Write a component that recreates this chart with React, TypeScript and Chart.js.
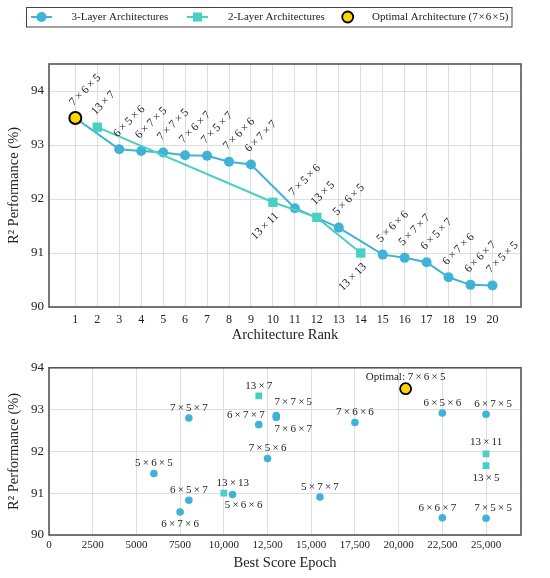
import React, { useEffect, useRef } from 'react'
import { Chart, registerables } from 'chart.js'

Chart.register(...registerables)

// ranking of the 20 best architectures
const ranks = [1, 2, 3, 4, 5, 6, 7, 8, 9, 10, 11, 12, 13, 14, 15, 16, 17, 18, 19, 20]
const archNames = [
	'7×6×5', '13×7', '6×5×6', '6×7×5', '7×7×5', '7×6×7', '7×5×7', '7×6×6', '6×7×7', '13×11',
	'7×5×6', '13×5', '5×6×5', '13×13', '5×6×6', '5×7×7', '6×5×7', '6×7×6', '6×6×7', '7×5×5',
]
const r2Scores = [
	93.5, 93.33, 92.92, 92.89, 92.86, 92.81, 92.8, 92.69, 92.64, 91.94,
	91.83, 91.66, 91.47, 91.0, 90.97, 90.91, 90.83, 90.55, 90.41, 90.4,
]
const bestEpochs = [
	20400, 12000, 22500, 25000, 13000, 13000, 8000, 17500, 12000, 25000,
	12500, 25000, 6000, 10000, 10500, 15500, 8000, 7500, 22500, 25000,
]
const layerCounts = [3, 2, 3, 3, 3, 3, 3, 3, 3, 2, 3, 2, 3, 2, 3, 3, 3, 3, 3, 3]
const optimalName = '7×6×5'

const r2Ticks = [90, 91, 92, 93, 94]
const epochTicks = [0, 2500, 5000, 7500, 10000, 12500, 15000, 17500, 20000, 22500, 25000]

const BLUE = '#3fb2d5'
const TEAL = '#48d0c3'
const GOLD = '#ffd500'
const INK = '#222'
const GRID = '#dedede'
const FONT = "'Liberation Serif', 'Times New Roman', serif"

// labels of the top chart drawn under the point
const labelsBelow = ['13×11', '13×13']
// label offsets in the scatter chart (default: centred above)
const scatterOffsets: Record<string, [number, number]> = {
	'6×7×7': [-13, -10],
	'7×7×5': [17, -13],
	'7×6×7': [17, 12],
	'13×13': [9, -10],
	'5×6×6': [11, 11],
	'6×7×6': [0, 12],
	'7×6×5': [0, -12],
	'6×7×5': [7, -10],
	'13×11': [0, -12],
	'13×5': [0, 12],
	'6×6×7': [-5, -10],
	'7×5×5': [7, -10],
}

const spaced = (s: string) => s.replace(/×/g, '\u2009×\u2009')
const tight = (s: string) => s.replace(/×/g, '\u200a×\u200a')

const idx3 = ranks.map((_, i) => i).filter((i) => layerCounts[i] === 3)
const idx2 = ranks.map((_, i) => i).filter((i) => layerCounts[i] === 2)
const optIdx = archNames.indexOf(optimalName)

const frame = {
	id: 'frame',
	afterDatasetsDraw(chart: any) {
		const { ctx, chartArea: a } = chart
		ctx.save()
		ctx.strokeStyle = '#555'
		ctx.lineWidth = 1.6
		ctx.strokeRect(a.left, a.top, a.right - a.left, a.bottom - a.top)
		ctx.restore()
	},
}

const rankLabels = {
	id: 'rankLabels',
	afterDatasetsDraw(chart: any) {
		const { ctx } = chart
		const { x, y } = chart.scales
		ctx.save()
		ctx.font = `11.5px ${FONT}`
		ctx.fillStyle = INK
		ctx.textBaseline = 'middle'
		ranks.forEach((r, i) => {
			const px = x.getPixelForValue(r)
			const py = y.getPixelForValue(r2Scores[i])
			const below = labelsBelow.includes(archNames[i])
			ctx.save()
			ctx.translate(below ? px + 4 : px - 4, below ? py + 12 : py - 14)
			ctx.rotate(-Math.PI / 4)
			ctx.textAlign = below ? 'right' : 'left'
			ctx.fillText(spaced(archNames[i]), 0, 0)
			ctx.restore()
		})
		ctx.restore()
	},
}

const boxLegend = {
	id: 'boxLegend',
	afterDraw(chart: any) {
		const { ctx } = chart
		const cy = 17
		ctx.save()
		ctx.strokeStyle = '#444'
		ctx.lineWidth = 1
		ctx.strokeRect(26.5, 7.5, 485.5, 19.5)

		ctx.strokeStyle = BLUE
		ctx.lineWidth = 2
		ctx.beginPath()
		ctx.moveTo(31, cy)
		ctx.lineTo(52, cy)
		ctx.stroke()
		ctx.fillStyle = BLUE
		ctx.beginPath()
		ctx.arc(41.5, cy, 5, 0, Math.PI * 2)
		ctx.fill()

		ctx.strokeStyle = TEAL
		ctx.beginPath()
		ctx.moveTo(187, cy)
		ctx.lineTo(208, cy)
		ctx.stroke()
		ctx.fillStyle = TEAL
		ctx.fillRect(197.5 - 4.5, cy - 4.5, 9, 9)

		ctx.fillStyle = GOLD
		ctx.strokeStyle = '#000'
		ctx.lineWidth = 1.8
		ctx.beginPath()
		ctx.arc(347.7, cy, 5.5, 0, Math.PI * 2)
		ctx.fill()
		ctx.stroke()

		ctx.fillStyle = INK
		ctx.font = `11px ${FONT}`
		ctx.textBaseline = 'middle'
		ctx.textAlign = 'left'
		ctx.fillText('3-Layer Architectures', 71.5, cy)
		ctx.fillText('2-Layer Architectures', 228, cy)
		ctx.fillText(`Optimal Architecture (${tight(optimalName)})`, 372, cy)
		ctx.restore()
	},
}

const epochLabels = {
	id: 'epochLabels',
	afterDatasetsDraw(chart: any) {
		const { ctx } = chart
		const { x, y } = chart.scales
		ctx.save()
		ctx.font = `11px ${FONT}`
		ctx.fillStyle = INK
		ctx.textBaseline = 'middle'
		ctx.textAlign = 'center'
		archNames.forEach((name, i) => {
			const px = x.getPixelForValue(bestEpochs[i])
			const py = y.getPixelForValue(r2Scores[i])
			const [dx, dy] = scatterOffsets[name] || [0, -10]
			const text = name === optimalName ? `Optimal: ${spaced(name)}` : spaced(name)
			ctx.fillText(text, px + dx, py + dy)
		})
		ctx.restore()
	},
}

const App: React.FC = () => {
	const topRef = useRef<HTMLCanvasElement>(null)
	const bottomRef = useRef<HTMLCanvasElement>(null)

	useEffect(() => {
		if (!topRef.current || !bottomRef.current) return
		Chart.defaults.font.family = FONT
		Chart.defaults.color = INK

		const topChart = new Chart(topRef.current, {
			type: 'scatter',
			data: {
				datasets: [
					{
						label: 'Optimal Architecture',
						data: [{ x: ranks[optIdx], y: r2Scores[optIdx] }],
						backgroundColor: GOLD,
						borderColor: '#000',
						borderWidth: 2,
						pointRadius: 6,
					},
					{
						label: '2-Layer Architectures',
						data: idx2.map((i) => ({ x: ranks[i], y: r2Scores[i] })),
						showLine: true,
						borderColor: TEAL,
						backgroundColor: TEAL,
						borderWidth: 2,
						pointStyle: 'rect',
						pointRadius: 6.6,
						pointBorderWidth: 0,
					},
					{
						label: '3-Layer Architectures',
						data: idx3.map((i) => ({ x: ranks[i], y: r2Scores[i] })),
						showLine: true,
						borderColor: BLUE,
						backgroundColor: BLUE,
						borderWidth: 2,
						pointRadius: 5,
						pointBorderWidth: 0,
					},
				],
			},
			options: {
				animation: false,
				responsive: false,
				layout: { padding: { left: 0, right: 29, top: 64, bottom: 0 } },
				plugins: { legend: { display: false }, tooltip: { enabled: false } },
				scales: {
					x: {
						type: 'linear',
						min: -0.2,
						max: 21.3,
						afterBuildTicks: (s: any) => {
							s.ticks = ranks.map((v) => ({ value: v }))
						},
						afterFit: (s: any) => {
							s.height = 48
						},
						grid: { color: GRID, drawTicks: false },
						border: { display: false },
						ticks: { font: { size: 12 }, color: INK, padding: 6, maxRotation: 0, autoSkip: false },
						title: {
							display: true,
							text: 'Architecture Rank',
							font: { size: 14.5 },
							color: INK,
							padding: { top: 0, bottom: 11 },
						},
					},
					y: {
						min: 90,
						max: 94.5,
						afterBuildTicks: (s: any) => {
							s.ticks = r2Ticks.map((v) => ({ value: v }))
						},
						afterFit: (s: any) => {
							s.width = 49
						},
						grid: { color: GRID, drawTicks: false },
						border: { display: false },
						ticks: { font: { size: 13 }, color: INK, padding: 5 },
						title: {
							display: true,
							text: 'R² Performance (%)',
							font: { size: 14.5 },
							color: INK,
							padding: { top: 5, bottom: 0 },
						},
					},
				},
			},
			plugins: [frame, rankLabels, boxLegend],
		})

		const bottomChart = new Chart(bottomRef.current, {
			type: 'scatter',
			data: {
				datasets: [
					{
						label: 'Optimal Architecture',
						data: [{ x: bestEpochs[optIdx], y: r2Scores[optIdx] }],
						backgroundColor: GOLD,
						borderColor: '#000',
						borderWidth: 1.8,
						pointRadius: 5.5,
					},
					{
						label: '2-Layer Architectures',
						data: idx2.map((i) => ({ x: bestEpochs[i], y: r2Scores[i] })),
						backgroundColor: TEAL,
						pointStyle: 'rect',
						pointRadius: 4.8,
						pointBorderWidth: 0,
					},
					{
						label: '3-Layer Architectures',
						data: idx3.filter((i) => i !== optIdx).map((i) => ({ x: bestEpochs[i], y: r2Scores[i] })),
						backgroundColor: BLUE,
						pointRadius: 3.8,
						pointBorderWidth: 0,
					},
				],
			},
			options: {
				animation: false,
				responsive: false,
				layout: { padding: { left: 0, right: 29, top: 12, bottom: 0 } },
				plugins: { legend: { display: false }, tooltip: { enabled: false } },
				scales: {
					x: {
						type: 'linear',
						min: 0,
						max: 27000,
						afterBuildTicks: (s: any) => {
							s.ticks = epochTicks.map((v) => ({ value: v }))
						},
						afterFit: (s: any) => {
							s.height = 43
						},
						grid: { color: GRID, drawTicks: false },
						border: { display: false },
						ticks: {
							font: { size: 11 },
							color: INK,
							padding: 4,
							maxRotation: 0,
							autoSkip: false,
							callback: (v: any) => (v >= 10000 ? Number(v).toLocaleString('en-US') : String(v)),
						},
						title: {
							display: true,
							text: 'Best Score Epoch',
							font: { size: 14.5 },
							color: INK,
							padding: { top: 0, bottom: 6 },
						},
					},
					y: {
						min: 90,
						max: 94,
						afterBuildTicks: (s: any) => {
							s.ticks = r2Ticks.map((v) => ({ value: v }))
						},
						afterFit: (s: any) => {
							s.width = 49
						},
						grid: { color: GRID, drawTicks: false },
						border: { display: false },
						ticks: { font: { size: 13 }, color: INK, padding: 5 },
						title: {
							display: true,
							text: 'R² Performance (%)',
							font: { size: 14.5 },
							color: INK,
							padding: { top: 5, bottom: 0 },
						},
					},
				},
			},
			plugins: [frame, epochLabels],
		})

		return () => {
			topChart.destroy()
			bottomChart.destroy()
		}
	}, [])

	return (
		<div style={{ position: 'absolute', left: 0, top: 0, width: 550, height: 578, background: '#fff' }}>
			<canvas ref={topRef} width={550} height={355} style={{ display: 'block' }} />
			<canvas ref={bottomRef} width={550} height={223} style={{ display: 'block' }} />
		</div>
	)
}

export default App
